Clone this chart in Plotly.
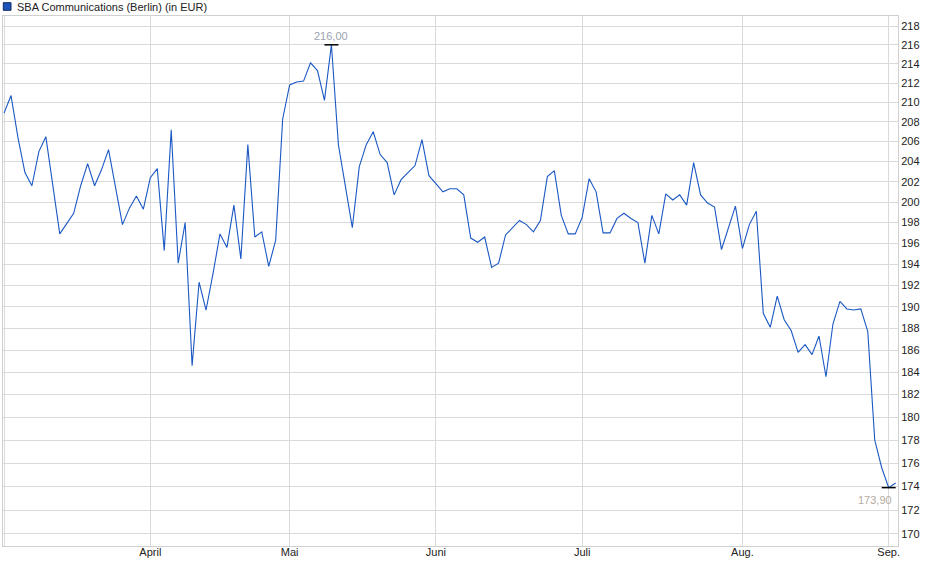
import numpy as np
import pandas as pd
import plotly.graph_objects as go

# SBA Communications, Börse Berlin, daily close in EUR (Mar 3 - Sep 2, 2025)
holidays = ["2025-04-18", "2025-04-21", "2025-05-01"]
prices = [
    208.9, 210.7, 206.4, 202.9, 201.6, 205.0, 206.5, 201.7, 196.9, 197.9,
    198.9, 201.6, 203.8, 201.6, 203.2, 205.2, 201.6, 197.8, 199.4, 200.6,
    199.3, 202.4, 203.3, 195.3, 207.2, 194.1, 198.0, 184.6, 192.3, 189.7,
    193.1, 196.9, 195.6, 199.7, 194.5, 205.7, 196.6, 197.1, 193.8, 196.3,
    208.3, 211.8, 212.1, 212.2, 214.1, 213.3, 210.2, 216.0, 205.7, 201.7,
    197.5, 203.5, 205.7, 207.0, 204.7, 203.9, 200.7, 202.2, 202.9, 203.6,
    206.2, 202.6, 201.8, 201.0, 201.3, 201.3, 200.7, 196.5, 196.1, 196.6,
    193.7, 194.1, 196.8, 197.5, 198.2, 197.8, 197.1, 198.2, 202.5, 203.1,
    198.7, 196.9, 196.9, 198.5, 202.3, 201.0, 197.0, 197.0, 198.4, 198.9,
    198.4, 198.0, 194.1, 198.7, 196.9, 200.8, 200.2, 200.7, 199.7, 203.9,
    200.7, 199.9, 199.5, 195.4, 197.5, 199.6, 195.5, 197.8, 199.1, 189.4,
    188.1, 191.0, 188.8, 187.8, 185.8, 186.5, 185.6, 187.3, 183.6, 188.4,
    190.5, 189.8, 189.7, 189.8, 187.7, 178.0, 175.6, 173.9, 174.3,
]
month_names = {3: "", 4: "April", 5: "Mai", 6: "Juni", 7: "Juli", 8: "Aug.", 9: "Sep."}
y_ticks = list(range(170, 219, 2))
title_text = "SBA Communications (Berlin) (in EUR)"

dates = pd.bdate_range("2025-03-03", "2025-09-02")
dates = dates[~dates.isin(pd.to_datetime(holidays))]
x = list(range(len(dates)))

tickvals = [i for i in x if i == 0 or dates[i].month != dates[i - 1].month]
ticktext = [month_names[dates[i].month] for i in tickvals]

i_max = int(np.argmax(prices))
i_min = int(np.argmin(prices))

def fmt(v):
    return f"{v:.2f}".replace(".", ",")

W, H = 940, 579
ml, mr, mt, mb = 3, 42, 16, 33
pw, ph = W - ml - mr, H - mt - mb

fig = go.Figure()
fig.add_trace(go.Scatter(
    x=x, y=prices, mode="lines",
    line=dict(color="#1b58c4", width=1.1),
    hoverinfo="y", showlegend=False,
))
fig.add_trace(go.Scatter(
    x=[i_max, i_min], y=[prices[i_max], prices[i_min]], mode="markers",
    marker=dict(symbol="line-ew", size=10, line=dict(color="black", width=1.5)),
    hoverinfo="skip", showlegend=False,
))

fig.add_annotation(x=i_max, y=np.log10(prices[i_max]), text=fmt(prices[i_max]),
                   showarrow=False, yshift=9, font=dict(size=11, color="#9aa3b0"))
fig.add_annotation(x=i_min, y=np.log10(prices[i_min]), text=fmt(prices[i_min]),
                   showarrow=False, xanchor="right", xshift=5, yshift=-12,
                   font=dict(size=11, color="#b3aba0"))

# legend-like header
fig.add_shape(type="rect", xref="paper", yref="paper",
              x0=0.3 / pw, x1=8 / pw, y0=(ph - (10.3 - mt)) / ph, y1=(ph - (2.7 - mt)) / ph,
              fillcolor="#1d52b8", line=dict(color="#102a66", width=1))
fig.add_annotation(xref="paper", yref="paper", x=(15 - ml) / pw, y=(ph - (6.5 - mt)) / ph,
                   xanchor="left", yanchor="middle", showarrow=False, text=title_text,
                   font=dict(size=11, color="#222222"))

fig.update_layout(
    width=W, height=H,
    margin=dict(l=ml, r=mr, t=mt, b=mb, pad=0),
    plot_bgcolor="white", paper_bgcolor="white",
    font=dict(family="Liberation Sans, Arial, sans-serif", size=11, color="#222222"),
    xaxis=dict(
        range=[-0.15, 128.34], tickvals=tickvals, ticktext=ticktext,
        showgrid=True, gridcolor="#dadada", gridwidth=1, zeroline=False,
        showline=True, linecolor="#d0d0d0", mirror=True, ticks="",
        ticklabelstandoff=-4,
    ),
    yaxis=dict(
        type="log", range=[np.log10(169.0), np.log10(219.07)], side="right",
        tickvals=y_ticks, ticktext=[str(t) for t in y_ticks],
        showgrid=True, gridcolor="#dadada", gridwidth=1, zeroline=False,
        showline=True, linecolor="#d0d0d0", mirror=True, ticks="",
    ),
)

# the page's default body margin would shift the chart; drop it
fig.write_html("out.html", config={"displayModeBar": False},
               post_script="document.body.style.margin='0';")
